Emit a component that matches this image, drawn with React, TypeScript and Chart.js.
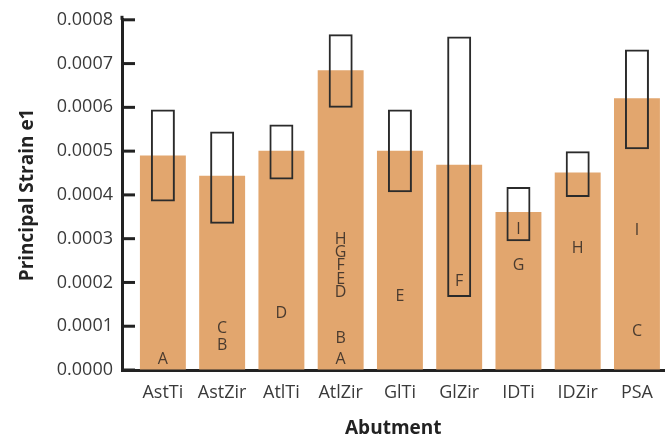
import React, { useEffect, useRef } from "react";
import { Chart, registerables } from "chart.js";

Chart.register(...registerables);

const categories = ["AstTi", "AstZir", "AtlTi", "AtlZir", "GlTi", "GlZir", "IDTi", "IDZir", "PSA"];
const meanValues = [0.00049, 0.000444, 0.000501, 0.000685, 0.000501, 0.000469, 0.000361, 0.000451, 0.000621];
const boxLow = [0.000385, 0.000334, 0.000435, 0.000599, 0.000406, 0.000167, 0.000294, 0.000395, 0.000504];
const boxHigh = [0.000595, 0.000545, 0.000561, 0.000767, 0.000595, 0.000762, 0.000418, 0.0005, 0.000732];

const letterCats = [0, 1, 1, 2, 3, 3, 3, 3, 3, 3, 3, 4, 5, 6, 6, 7, 8, 8];
const letterTexts = ["A", "C", "B", "D", "H", "G", "F", "E", "D", "B", "A", "E", "F", "I", "G", "H", "I", "C"];
const letterValues = [
  0.000025, 0.000096, 0.000055, 0.00013, 0.000299, 0.000268, 0.000238, 0.000208, 0.000178,
  0.000071, 0.000025, 0.000167, 0.000203, 0.000321, 0.000239, 0.000278, 0.000319, 0.000089,
];

const yTickValues = [0, 0.0001, 0.0002, 0.0003, 0.0004, 0.0005, 0.0006, 0.0007, 0.0008];

const FONT = "'Open Sans', 'Noto Sans', sans-serif";

const overlayPlugin = {
  id: "overlay",
  afterDraw(chart: any) {
    const { ctx, chartArea, scales } = chart;
    const x = scales.x;
    const y = scales.y;
    ctx.save();
    ctx.strokeStyle = "#222";
    ctx.lineWidth = 3;
    yTickValues.forEach((v) => {
      const py = y.getPixelForValue(v);
      ctx.beginPath();
      ctx.moveTo(chartArea.left, py);
      ctx.lineTo(chartArea.left + 13, py);
      ctx.stroke();
    });
    ctx.beginPath();
    ctx.moveTo(chartArea.left, chartArea.top);
    ctx.lineTo(chartArea.left, chartArea.top - 4);
    ctx.stroke();
    ctx.fillStyle = "#4a3b2f";
    ctx.font = `16px ${FONT}`;
    ctx.textAlign = "center";
    ctx.textBaseline = "middle";
    letterTexts.forEach((t, i) => {
      const px = x.getPixelForValue(letterCats[i]);
      const py = y.getPixelForValue(letterValues[i]);
      ctx.fillText(t, px, py);
    });
    ctx.restore();
  },
};

export default function App() {
  const canvasRef = useRef<HTMLCanvasElement | null>(null);

  useEffect(() => {
    const canvas = canvasRef.current;
    if (!canvas) return;
    const chart = new Chart(canvas, {
      type: "bar",
      data: {
        datasets: [
          {
            label: "range",
            data: categories.map((_, i) => ({ x: i, y: [boxLow[i], boxHigh[i]] })),
            backgroundColor: "rgba(0,0,0,0)",
            borderColor: "#2b2b2b",
            borderWidth: 2,
            borderSkipped: false,
            grouped: false,
            barPercentage: 0.405,
            categoryPercentage: 1,
            order: 0,
          } as any,
          {
            label: "mean",
            data: categories.map((_, i) => ({ x: i, y: meanValues[i] })),
            backgroundColor: "#E2A66E",
            borderWidth: 0,
            grouped: false,
            barPercentage: 0.775,
            categoryPercentage: 1,
            order: 1,
          } as any,
        ],
      },
      options: {
        responsive: false,
        animation: false,
        layout: { padding: { top: 18, right: 0, left: 0, bottom: 0 } },
        plugins: {
          legend: { display: false },
          tooltip: { enabled: false },
        },
        scales: {
          x: {
            type: "linear",
            offset: false,
            min: -0.69,
            max: 8.465,
            afterBuildTicks: (scale: any) => {
              scale.ticks = categories.map((_, i) => ({ value: i }));
            },
            afterFit: (scale: any) => {
              scale.height = 72;
            },
            grid: { offset: false, drawOnChartArea: false, drawTicks: false, color: "rgba(0,0,0,0)" },
            border: { display: true, width: 3, color: "#222" },
            ticks: {
              autoSkip: false,
              maxRotation: 0,
              minRotation: 0,
              padding: 12,
              color: "#3a3a3a",
              font: { family: FONT, size: 18 },
              callback: (v: any) => categories[Math.round(Number(v))] ?? "",
            },
            title: {
              display: true,
              text: "Abutment",
              color: "#222",
              font: { family: FONT, size: 19, weight: "bold" },
              padding: { top: 0, bottom: 2 },
            },
          },
          y: {
            type: "linear",
            min: 0,
            max: 0.0008,
            afterFit: (scale: any) => {
              scale.width = 122;
            },
            grid: { drawOnChartArea: false, drawTicks: false, color: "rgba(0,0,0,0)" },
            border: { display: true, width: 3, color: "#222" },
            ticks: {
              stepSize: 0.0001,
              padding: 9,
              color: "#3a3a3a",
              font: { family: FONT, size: 18 },
              callback: (v: any) => Number(v).toFixed(4),
            },
            title: {
              display: true,
              text: "Principal Strain e1",
              color: "#222",
              font: { family: FONT, size: 19, weight: "bold" },
              padding: { top: 16, bottom: 0 },
            },
          },
        },
      },
      plugins: [overlayPlugin],
    });
    return () => chart.destroy();
  }, []);

  return (
    <div style={{ position: "absolute", left: 0, top: 0, width: 665, height: 442, background: "#fff" }}>
      <canvas ref={canvasRef} width={665} height={442} style={{ display: "block" }} />
    </div>
  );
}
